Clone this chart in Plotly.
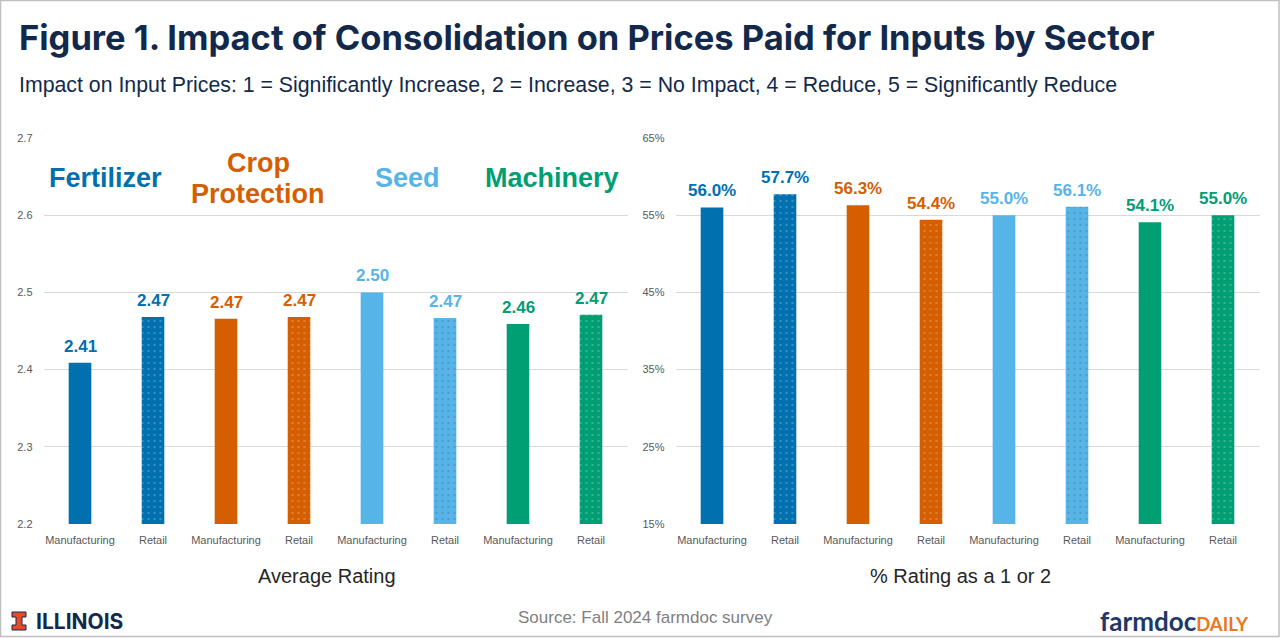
import plotly.graph_objects as go

W, H = 1280, 638

# ---------------- data ----------------
sectors = ["Fertilizer", "Crop Protection", "Seed", "Machinery"]
sector_colors = ["#0070AF", "#D55E00", "#56B4E9", "#009E73"]
channels = ["Manufacturing", "Retail"]
avg_rating = [2.409, 2.468, 2.466, 2.468, 2.500, 2.467, 2.459, 2.471]
avg_labels = ["2.41", "2.47", "2.47", "2.47", "2.50", "2.47", "2.46", "2.47"]
pct_rating_1_2 = [56.0, 57.7, 56.3, 54.4, 55.0, 56.1, 54.1, 55.0]
pct_labels = ["56.0%", "57.7%", "56.3%", "54.4%", "55.0%", "56.1%", "54.1%", "55.0%"]
avg_ticks = [2.2, 2.3, 2.4, 2.5, 2.6, 2.7]
pct_ticks = [15, 25, 35, 45, 55, 65]

def px(x):
    return x / W

def py(y):
    return 1 - y / H

n = len(sectors) * len(channels)
xs = list(range(n))
bar_colors = [sector_colors[i // 2] for i in range(n)]
shapes_pat = ["" if i % 2 == 0 else "." for i in range(n)]
tick_text = [channels[i % 2] for i in range(n)]

NAVY = "#13294B"
TICK_GREY = "#595959"
GRID = "#D9D9D9"

fig = go.Figure()
for xa, ya, vals in [("x", "y", avg_rating), ("x2", "y2", pct_rating_1_2)]:
    fig.add_trace(go.Bar(
        x=xs, y=vals, xaxis=xa, yaxis=ya, width=0.31,
        marker=dict(color=bar_colors, line=dict(width=0),
                    pattern=dict(shape=shapes_pat, fgcolor="white",
                                 size=6, solidity=0.06, fillmode="overlay")),
        showlegend=False, hoverinfo="skip",
    ))

y_dom = [py(524), py(138)]
LAB = "Liberation Sans, Arial, sans-serif"
tickfont = dict(family=LAB, size=11, color=TICK_GREY)

fig.update_layout(
    width=W, height=H,
    margin=dict(l=0, r=0, t=0, b=0, autoexpand=False),
    paper_bgcolor="white", plot_bgcolor="white",
    xaxis=dict(domain=[px(43.5), px(627.5)], range=[-0.5, n - 0.5],
               tickvals=xs, ticktext=tick_text, tickfont=tickfont, automargin=False,
               showgrid=False, zeroline=False, showline=False, ticks="", ticklabelstandoff=8),
    yaxis=dict(domain=y_dom, range=[2.2, 2.7], tickvals=avg_ticks,
               ticktext=[f"{t:.1f}" for t in avg_ticks], tickfont=tickfont, automargin=False,
               showgrid=True, gridcolor=GRID, zeroline=False, showline=False, ticks="",
               ticklabelstandoff=10),
    xaxis2=dict(domain=[px(675.5), px(1259.5)], range=[-0.5, n - 0.5],
                tickvals=xs, ticktext=tick_text, tickfont=tickfont, automargin=False,
                showgrid=False, zeroline=False, showline=False, ticks="", anchor="y2",
                ticklabelstandoff=8),
    yaxis2=dict(domain=y_dom, range=[15, 65], tickvals=pct_ticks,
                ticktext=[f"{t}%" for t in pct_ticks], tickfont=tickfont, automargin=False,
                showgrid=True, gridcolor=GRID, zeroline=False, showline=False, ticks="",
                anchor="x2", ticklabelstandoff=10),
)

ann = []
for i in xs:
    ann.append(dict(x=i, y=avg_rating[i], xref="x", yref="y", text=f"<b>{avg_labels[i]}</b>",
                    showarrow=False, xanchor="center", yanchor="bottom", yshift=5,
                    font=dict(family=LAB, size=17, color=bar_colors[i])))
    ann.append(dict(x=i, y=pct_rating_1_2[i], xref="x2", yref="y2", text=f"<b>{pct_labels[i]}</b>",
                    showarrow=False, xanchor="center", yanchor="bottom", yshift=5,
                    font=dict(family=LAB, size=17, color=bar_colors[i])))

sector_lines = [
    ("Fertilizer", 0.35, 178, sector_colors[0]),
    ("Crop", 2.44, 163, sector_colors[1]),
    ("Protection", 2.44, 194, sector_colors[1]),
    ("Seed", 4.49, 178, sector_colors[2]),
    ("Machinery", 6.46, 178, sector_colors[3]),
]
for st, sx, sy, sc in sector_lines:
    ann.append(dict(x=sx, y=py(sy), xref="x", yref="paper", text=f"<b>{st}</b>",
                    showarrow=False, xanchor="center", yanchor="middle",
                    font=dict(family=LAB, size=27, color=sc)))

ann.append(dict(x=px(17), y=py(37.5), xref="paper", yref="paper", xanchor="left", yanchor="middle",
                text="<b>Figure 1. Impact of Consolidation on Prices Paid for Inputs by Sector</b>",
                showarrow=False, font=dict(family="Inter, Lato, sans-serif", size=34.5, color=NAVY)))
ann.append(dict(x=px(17), y=py(85), xref="paper", yref="paper", xanchor="left", yanchor="middle",
                text="Impact on Input Prices: 1 = Significantly Increase, 2 = Increase, 3 = No Impact, 4 = Reduce, 5 = Significantly Reduce",
                showarrow=False, font=dict(family=LAB, size=21.3, color=NAVY)))
ann.append(dict(x=px(327), y=py(576), xref="paper", yref="paper", text="Average Rating",
                xanchor="center", yanchor="middle", showarrow=False,
                font=dict(family=LAB, size=20, color="#262626")))
ann.append(dict(x=px(960), y=py(576), xref="paper", yref="paper", text="% Rating as a 1 or 2",
                xanchor="center", yanchor="middle", showarrow=False,
                font=dict(family=LAB, size=20, color="#262626")))
ann.append(dict(x=px(645), y=py(617), xref="paper", yref="paper", text="Source: Fall 2024 farmdoc survey",
                xanchor="center", yanchor="middle", showarrow=False,
                font=dict(family=LAB, size=17, color="#7F7F7F")))
ann.append(dict(x=px(34), y=py(621), xref="paper", yref="paper", xanchor="left", yanchor="middle",
                text="<b>ILLINOIS</b>", showarrow=False,
                font=dict(family="Inter, Liberation Sans, sans-serif", size=21, color="#13294B")))
ann.append(dict(x=px(1251), y=py(621), xref="paper", yref="paper", xanchor="right", yanchor="middle",
                text="<b>farmdoc</b><b><span style='color:#E87722;font-size:18.5px'>DAILY</span></b>",
                showarrow=False, font=dict(family="Lato, Open Sans, sans-serif", size=26, color="#1F3864")))

shapes = []
i_path = (f"M {px(12)},{py(612)} L {px(26)},{py(612)} L {px(26)},{py(617)} L {px(22)},{py(617)} "
          f"L {px(22)},{py(625)} L {px(26)},{py(625)} L {px(26)},{py(630)} L {px(12)},{py(630)} "
          f"L {px(12)},{py(625)} L {px(16)},{py(625)} L {px(16)},{py(617)} L {px(12)},{py(617)} Z")
shapes.append(dict(type="path", path=i_path, xref="paper", yref="paper",
                   fillcolor="#E84A27", line=dict(color="#13294B", width=1)))
shapes.append(dict(type="rect", xref="paper", yref="paper", x0=px(0.5), x1=px(1279), y0=py(636.5), y1=py(0.5),
                   line=dict(color="#BFBFBF", width=1.5), fillcolor="rgba(0,0,0,0)"))
fig.update_layout(shapes=shapes, annotations=ann)

fig.write_html("out.html")
